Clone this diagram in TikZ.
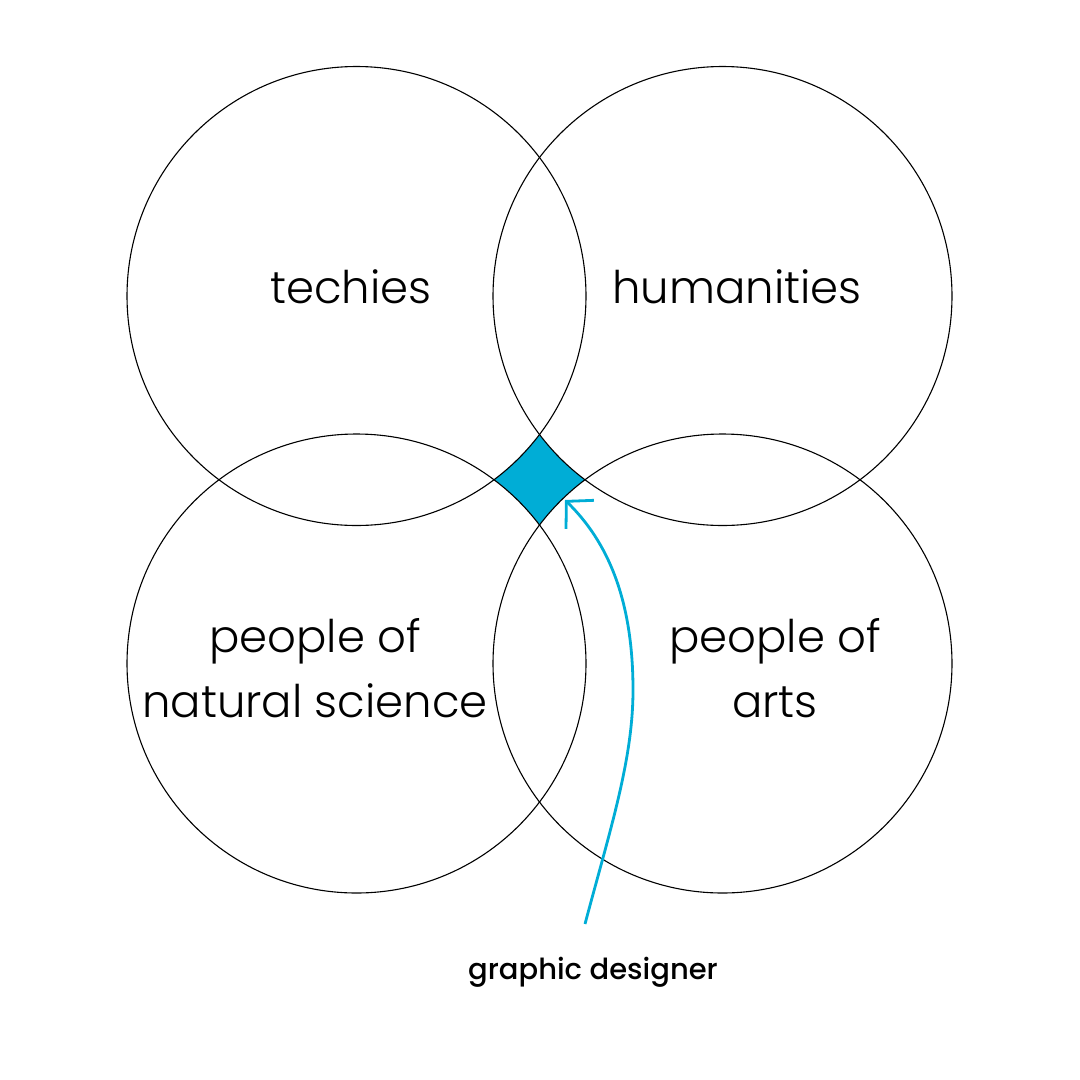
\documentclass[tikz,border=0pt]{standalone}
\usepackage{fontspec}
\setmainfont{Poppins Light}
\newfontfamily\gdfont{Poppins Medium}
\usetikzlibrary{arrows.meta}
\definecolor{gapblue}{RGB}{0,173,214}
\begin{document}
\begin{tikzpicture}[x=1pt,y=-1pt,
  ring/.style={circle, minimum size=459pt, inner sep=0pt, outer sep=0pt},
  grouptext/.style={font=\fontsize{45}{65}\selectfont, align=center, inner sep=0pt},
  pointer/.style={gapblue, line width=2.8pt, -{Straight Barb[length=19pt,width=40pt]}}
]
\useasboundingbox (0,0) rectangle (1080,1080);
% the gap between the circles
\fill[gapblue] (494,433) rectangle (586,527);
\foreach \p in {(356.5,296),(722.5,296),(356.5,663.5),(722.5,663.5)}
  \fill[white] \p circle (229.5);
\node[ring, draw=black, line width=1.1pt] (tl) at (356.5,296) {};
\node[ring, draw=black, line width=1.1pt] (tr) at (722.5,296) {};
\node[ring, draw=black, line width=1.1pt] (bl) at (356.5,663.5) {};
\node[ring, draw=black, line width=1.1pt] (br) at (722.5,663.5) {};
\node[coordinate] (gap) at (539.5,480) {};
\node[grouptext, anchor=base] (techies) at (351,303) {techies};
\node[grouptext, anchor=base] (hum) at (737,303) {humanities};
\node[grouptext] (nat) at (315,668) {people of\\natural science};
\node[grouptext] (arts) at (775,668) {people of\\arts};
\node[font=\gdfont\fontsize{29}{34}\selectfont, inner sep=0pt, anchor=base] (gd) at (593,979) {graphic designer};
\coordinate (tail) at (585,924);
\coordinate (tip) at (565,500);
\draw[pointer] (tail) .. controls (610,830) and (633,760) .. (633,690)
  .. controls (633,600) and (608,542) .. (tip);
\end{tikzpicture}
\end{document}
